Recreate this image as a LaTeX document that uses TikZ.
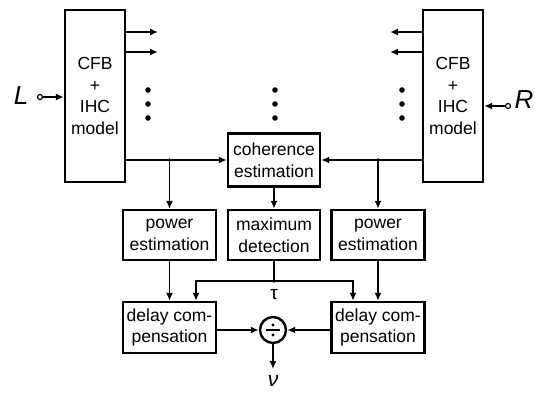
\documentclass[tikz,border=0pt]{standalone}
\usepackage{fontspec}
\setmainfont{Liberation Sans}
\usetikzlibrary{arrows.meta}
\newcommand{\texte}[0]{\fontsize{17.5}{21.5}\selectfont}
\newcommand{\grand}[0]{\fontsize{26}{26}\selectfont\itshape}
\newcommand{\colonne}[1]{\foreach \y in {90,104,118} \fill (#1,\y) circle (2.8pt)}
\newcommand{\jonction}[1]{\fill (#1) circle (1.8pt)}
\tikzset{
	bloc/.style={draw,line width=2.4pt,inner sep=0pt,align=center,font=\texte},
	fil/.style={line width=1.9pt},
	entree/.style={circle,draw,line width=1.2pt,minimum size=5pt,inner sep=0pt}
}

\begin{document}
\begin{tikzpicture}[x=1pt,y=-1pt,>={Latex[length=8pt,width=7pt]}]
\useasboundingbox (0,0) rectangle (535,394);
%The two ear models
	\node[bloc,minimum width=60pt,minimum height=172pt] (cfbL) at (95,96) {CFB\\+\\IHC\\model};
	\node[bloc,minimum width=60pt,minimum height=172pt] (cfbR) at (453,96) {CFB\\+\\IHC\\model};
%Inputs
	\node[font=\grand] (L) at (21,96) {L};
	\node[entree] (inL) at (40,97) {};
	\draw[fil,->] (inL) -- (cfbL.west |- inL);
	\node[font=\grand] (R) at (524,100) {R};
	\node[entree] (inR) at (508,106) {};
	\draw[fil,->] (inR) -- (cfbR.east |- inR);
%Channel outputs
	\coordinate (sL1) at (158,32);
	\coordinate (sL2) at (158,52);
	\coordinate (sR1) at (390,32);
	\coordinate (sR2) at (390,52);
	\draw[fil,->] (cfbL.east |- sL1) -- (sL1);
	\draw[fil,->] (cfbL.east |- sL2) -- (sL2);
	\draw[fil,->] (cfbR.west |- sR1) -- (sR1);
	\draw[fil,->] (cfbR.west |- sR2) -- (sR2);
	\colonne{148};
	\colonne{275};
	\colonne{402};
%The processing blocks
	\node[bloc,minimum width=92pt,minimum height=53pt] (coh) at (274,160) {coherence\\estimation};
	\node[bloc,minimum width=93pt,minimum height=50pt] (powL) at (169.5,235) {power\\estimation};
	\node[bloc,minimum width=92pt,minimum height=50pt] (maxd) at (274,235) {maximum\\detection};
	\node[bloc,minimum width=93pt,minimum height=50pt] (powR) at (378,235) {power\\estimation};
	\node[bloc,minimum width=93pt,minimum height=51pt] (delL) at (169.5,327.5) {delay com-\\pensation};
	\node[bloc,minimum width=93pt,minimum height=51pt] (delR) at (378,327.5) {delay com-\\pensation};
	\node[circle,draw,line width=2.4pt,minimum size=26pt,inner sep=0pt] (div) at (273,330) {};
	\draw[fil] ([xshift=-7pt]div.center) -- ([xshift=7pt]div.center);
	\fill ([yshift=5pt]div.center) circle (1.7pt);
	\fill ([yshift=-5pt]div.center) circle (1.7pt);
%Links
	\draw[fil,->] (cfbL.east |- coh.west) -- (coh.west);
	\draw[fil,->] (cfbR.west |- coh.east) -- (coh.east);
	\draw[fil,->] (powL.north |- coh.west) -- (powL.north);
	\draw[fil,->] (powR.north |- coh.east) -- (powR.north);
	\jonction{powL.north |- coh.west};
	\jonction{powR.north |- coh.east};
	\draw[fil,->] (coh) -- (maxd);
	\draw[fil,->] (powL) -- (delL);
	\draw[fil,->] (powR) -- (delR);
%Delay
	\coordinate (tauj) at (274,281);
	\coordinate (tauG) at (196,281);
	\coordinate (tauD) at (353,281);
	\draw[fil] (maxd) -- (tauj);
	\draw[fil,->] (tauj) -- (tauG) -- (tauG |- delL.north);
	\draw[fil,->] (tauj) -- (tauD) -- (tauD |- delR.north);
	\jonction{tauj};
	\node[font=\fontsize{19}{19}\selectfont] (tau) at (274,295) {τ};
%Output
	\draw[fil,->] (delL.east |- div) -- (div.west);
	\draw[fil,->] (delR.west |- div) -- (div.east);
	\coordinate (sortie) at (273,369);
	\draw[fil,->] (div) -- (sortie);
	\node[font=\fontsize{21}{21}\selectfont\itshape,anchor=base,inner sep=1pt] (nu) at (273,386) {ν};
\end{tikzpicture}
\end{document}
